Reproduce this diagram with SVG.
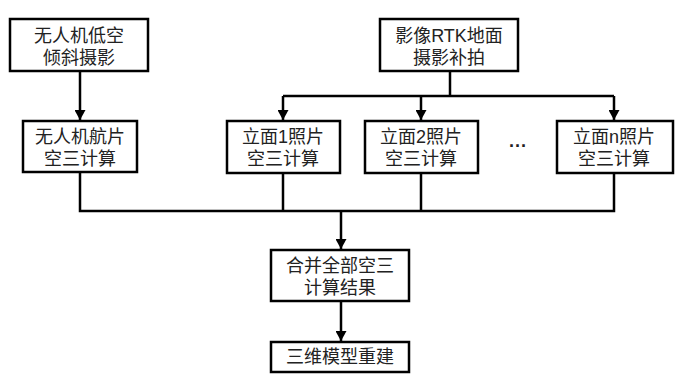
<svg xmlns="http://www.w3.org/2000/svg" width="690" height="377" viewBox="0 0 690 377">
<style>
.box{fill:#fff;stroke:#000;stroke-width:2.5}
.t{font-family:"Liberation Sans","Noto Sans CJK SC",sans-serif;font-size:18px;fill:#222;text-anchor:middle}
.c{fill:none;stroke:#000;stroke-width:2.5}
</style>
<defs>
<marker id="ah" markerWidth="10" markerHeight="11" refX="10" refY="5.5" orient="auto" markerUnits="userSpaceOnUse">
<path d="M0,0 L10,5.5 L0,11 Z" fill="#000"/>
</marker>
</defs>
<rect width="690" height="377" fill="#fff"/>
<g id="connectors">
<path class="c" d="M80,71 V120" marker-end="url(#ah)"/>
<path class="c" d="M450,71 V96"/>
<path class="c" d="M283,96 H614"/>
<path class="c" d="M283,96 V120" marker-end="url(#ah)"/>
<path class="c" d="M421,96 V120" marker-end="url(#ah)"/>
<path class="c" d="M614,96 V120" marker-end="url(#ah)"/>
<path class="c" d="M80,172 V211 H614 V173"/>
<path class="c" d="M283,173 V211"/>
<path class="c" d="M421,173 V211"/>
<path class="c" d="M341,211 V249" marker-end="url(#ah)"/>
<path class="c" d="M341,301 V341" marker-end="url(#ah)"/>
</g>
<g id="n1"><rect class="box" x="10" y="19" width="138" height="52"/><text class="t" x="79" y="42">无人机低空</text><text class="t" x="79" y="64">倾斜摄影</text></g>
<g id="n2"><rect class="box" x="380" y="19" width="138" height="52"/><text class="t" x="449" y="42">影像RTK地面</text><text class="t" x="449" y="64">摄影补拍</text></g>
<g id="n3"><rect class="box" x="23" y="121" width="114" height="51"/><text class="t" x="80" y="143">无人机航片</text><text class="t" x="80" y="165">空三计算</text></g>
<g id="n4"><rect class="box" x="227" y="121" width="113" height="52"/><text class="t" x="283" y="143">立面1照片</text><text class="t" x="283" y="165">空三计算</text></g>
<g id="n5"><rect class="box" x="365" y="121" width="113" height="52"/><text class="t" x="421" y="143">立面2照片</text><text class="t" x="421" y="165">空三计算</text></g>
<g id="n6"><rect class="box" x="557" y="121" width="116" height="52"/><text class="t" x="614" y="143">立面n照片</text><text class="t" x="614" y="165">空三计算</text></g>
<g id="dots"><text class="t" x="518" y="152" font-weight="bold">···</text></g>
<g id="n7"><rect class="box" x="271" y="250" width="138" height="51"/><text class="t" x="340" y="272">合并全部空三</text><text class="t" x="340" y="294">计算结果</text></g>
<g id="n8"><rect class="box" x="271" y="342" width="138" height="30"/><text class="t" x="340" y="363">三维模型重建</text></g>
</svg>
